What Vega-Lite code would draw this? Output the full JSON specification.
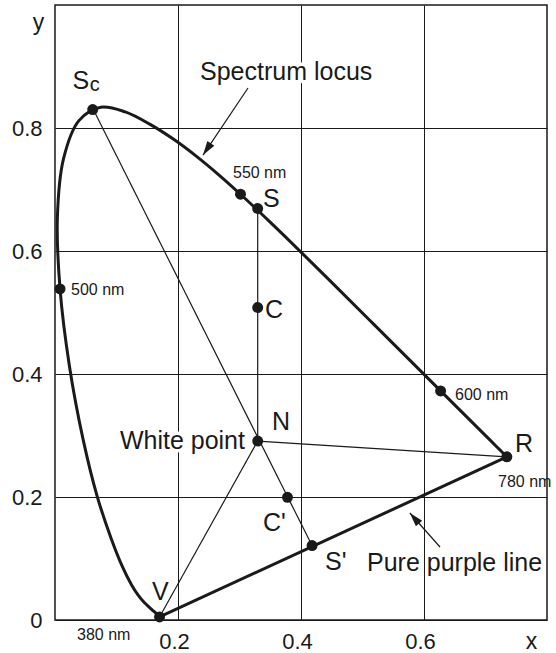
{
  "$schema": "https://vega.github.io/schema/vega-lite/v6.json",
  "width": 492,
  "height": 615,
  "autosize": {"type": "none"},
  "padding": {"left": 55, "top": 5, "right": 9, "bottom": 33},
  "background": "white",
  "config": {
    "view": {"stroke": "#1a1a1a", "strokeWidth": 1.5},
    "font": "Liberation Sans",
    "axis": {
      "domain": false, "ticks": false, "grid": true,
      "gridColor": "#1a1a1a", "gridOpacity": 1, "gridWidth": 1,
      "labelFont": "Liberation Sans", "labelFontSize": 22, "labelColor": "#1a1a1a",
      "titleFont": "Liberation Sans", "titleFontSize": 23, "titleFontWeight": "normal", "titleColor": "#1a1a1a"
    }
  },
  "datasets": {
    "locus": [
      {"wl": 400, "x": 0.1710, "y": 0.0050},
      {"wl": 440, "x": 0.1644, "y": 0.0109},
      {"wl": 450, "x": 0.1566, "y": 0.0177},
      {"wl": 460, "x": 0.1440, "y": 0.0297},
      {"wl": 465, "x": 0.1355, "y": 0.0399},
      {"wl": 470, "x": 0.1241, "y": 0.0578},
      {"wl": 475, "x": 0.1096, "y": 0.0868},
      {"wl": 480, "x": 0.0913, "y": 0.1327},
      {"wl": 485, "x": 0.0687, "y": 0.2007},
      {"wl": 490, "x": 0.0454, "y": 0.2950},
      {"wl": 495, "x": 0.0235, "y": 0.4127},
      {"wl": 500, "x": 0.0082, "y": 0.5384},
      {"wl": 505, "x": 0.0039, "y": 0.6548},
      {"wl": 510, "x": 0.0139, "y": 0.7502},
      {"wl": 515, "x": 0.0389, "y": 0.8120},
      {"wl": 520, "x": 0.0743, "y": 0.8338},
      {"wl": 525, "x": 0.1142, "y": 0.8262},
      {"wl": 530, "x": 0.1547, "y": 0.8059},
      {"wl": 535, "x": 0.1929, "y": 0.7816},
      {"wl": 540, "x": 0.2296, "y": 0.7543},
      {"wl": 545, "x": 0.2658, "y": 0.7243},
      {"wl": 550, "x": 0.3016, "y": 0.6923},
      {"wl": 555, "x": 0.3373, "y": 0.6589},
      {"wl": 560, "x": 0.3731, "y": 0.6245},
      {"wl": 570, "x": 0.4441, "y": 0.5547},
      {"wl": 580, "x": 0.5125, "y": 0.4866},
      {"wl": 590, "x": 0.5752, "y": 0.4242},
      {"wl": 600, "x": 0.6270, "y": 0.3725},
      {"wl": 610, "x": 0.6658, "y": 0.3340},
      {"wl": 620, "x": 0.6915, "y": 0.3083},
      {"wl": 630, "x": 0.7079, "y": 0.2920},
      {"wl": 640, "x": 0.7190, "y": 0.2809},
      {"wl": 650, "x": 0.7260, "y": 0.2740},
      {"wl": 680, "x": 0.7334, "y": 0.2666},
      {"wl": 780, "x": 0.7347, "y": 0.2653}
    ],
    "thin": [
      {"seg": "Sc-S'", "x": 0.0613, "y": 0.832, "x2": 0.418, "y2": 0.121},
      {"seg": "S-N", "x": 0.3296, "y": 0.669, "x2": 0.3296, "y2": 0.291},
      {"seg": "N-R", "x": 0.3296, "y": 0.291, "x2": 0.7347, "y2": 0.2653},
      {"seg": "N-V", "x": 0.3296, "y": 0.291, "x2": 0.170, "y2": 0.005}
    ],
    "thick": [
      {"seg": "V-R", "x": 0.170, "y": 0.005, "x2": 0.7347, "y2": 0.2653}
    ],
    "arrows": [
      {"id": "locus", "x": 0.3138, "y": 0.865, "x2": 0.2407, "y2": 0.756},
      {"id": "purple", "x": 0.626, "y": 0.1187, "x2": 0.577, "y2": 0.174}
    ],
    "dots": [
      {"p": "Sc", "x": 0.0613, "y": 0.830},
      {"p": "500 nm", "x": 0.0082, "y": 0.5384},
      {"p": "550 nm", "x": 0.3016, "y": 0.6923},
      {"p": "S", "x": 0.3296, "y": 0.669},
      {"p": "C", "x": 0.3296, "y": 0.508},
      {"p": "N", "x": 0.3296, "y": 0.291},
      {"p": "C'", "x": 0.378, "y": 0.1995},
      {"p": "S'", "x": 0.418, "y": 0.121},
      {"p": "600 nm", "x": 0.627, "y": 0.3725},
      {"p": "R", "x": 0.7347, "y": 0.2653},
      {"p": "V", "x": 0.170, "y": 0.005}
    ],
    "big": [
      {"t": "Spectrum locus", "x": 0.2358, "y": 0.878},
      {"t": "S", "x": 0.3382, "y": 0.6715},
      {"t": "C", "x": 0.3415, "y": 0.491},
      {"t": "N", "x": 0.3528, "y": 0.309},
      {"t": "C'", "x": 0.3382, "y": 0.1447},
      {"t": "S'", "x": 0.439, "y": 0.0813},
      {"t": "Pure purple line", "x": 0.5073, "y": 0.0797},
      {"t": "R", "x": 0.748, "y": 0.273},
      {"t": "V", "x": 0.1577, "y": 0.0325},
      {"t": "S", "x": 0.0285, "y": 0.8634}
    ],
    "bigRight": [
      {"t": "White point", "x": 0.3089, "y": 0.278}
    ],
    "small": [
      {"t": "550 nm", "x": 0.2894, "y": 0.7187},
      {"t": "780 nm", "x": 0.7203, "y": 0.2163},
      {"t": "600 nm", "x": 0.6504, "y": 0.3577},
      {"t": "500 nm", "x": 0.026, "y": 0.5285},
      {"t": "380 nm", "x": 0.0358, "y": -0.0325}
    ],
    "sub": [
      {"t": "c", "x": 0.0565, "y": 0.860}
    ]
  },
  "encoding": {
    "x": {
      "field": "x", "type": "quantitative",
      "scale": {"domain": [0, 0.8], "nice": false, "zero": false},
      "axis": {"values": [0.2, 0.4, 0.6], "format": ".1f", "title": "x", "labelPadding": 11, "labelOffset": -4,
               "titleAnchor": "start", "titleX": 476, "titleY": 28, "titleAlign": "center", "titleBaseline": "alphabetic"}
    },
    "y": {
      "field": "y", "type": "quantitative",
      "scale": {"domain": [0, 1], "nice": false, "zero": false},
      "axis": {"values": [0, 0.2, 0.4, 0.6, 0.8], "labelExpr": "datum.value == 0 ? '0' : format(datum.value, '.1f')", "title": "y", "labelPadding": 13, "labelBaseline": "middle",
               "titleAngle": 0, "titleX": -17, "titleY": 24, "titleAlign": "center", "titleBaseline": "alphabetic"}
    }
  },
  "layer": [
    {
      "data": {"name": "locus"},
      "mark": {"type": "line", "stroke": "#1a1a1a", "strokeWidth": 3, "interpolate": "catmull-rom"},
      "encoding": {"order": {"field": "wl", "type": "quantitative"}}
    },
    {
      "data": {"name": "thin"},
      "mark": {"type": "rule", "stroke": "#1a1a1a", "strokeWidth": 1.2},
      "encoding": {"x2": {"field": "x2"}, "y2": {"field": "y2"}}
    },
    {
      "data": {"name": "thick"},
      "mark": {"type": "rule", "stroke": "#1a1a1a", "strokeWidth": 3},
      "encoding": {"x2": {"field": "x2"}, "y2": {"field": "y2"}}
    },
    {
      "data": {"name": "arrows"},
      "mark": {"type": "rule", "stroke": "#1a1a1a", "strokeWidth": 1.2},
      "encoding": {"x2": {"field": "x2"}, "y2": {"field": "y2"}}
    },
    {
      "data": {"name": "arrows"},
      "transform": [{"filter": "datum.id == 'locus'"}],
      "mark": {"type": "point", "shape": "M0,0L-0.3,1L0.3,1Z", "filled": true, "fill": "#1a1a1a", "strokeWidth": 0, "size": 784, "opacity": 1, "angle": 214},
      "encoding": {"x": {"field": "x2", "type": "quantitative"}, "y": {"field": "y2", "type": "quantitative"}}
    },
    {
      "data": {"name": "arrows"},
      "transform": [{"filter": "datum.id == 'purple'"}],
      "mark": {"type": "point", "shape": "M0,0L-0.3,1L0.3,1Z", "filled": true, "fill": "#1a1a1a", "strokeWidth": 0, "size": 784, "opacity": 1, "angle": 319},
      "encoding": {"x": {"field": "x2", "type": "quantitative"}, "y": {"field": "y2", "type": "quantitative"}}
    },
    {
      "data": {"name": "dots"},
      "mark": {"type": "circle", "fill": "#1a1a1a", "size": 120, "opacity": 1}
    },
    {
      "data": {"name": "big"},
      "transform": [{"filter": "datum.t == 'Spectrum locus'"}],
      "mark": {"type": "text", "align": "left", "baseline": "alphabetic", "fontSize": 25, "fill": "white", "stroke": "white", "strokeWidth": 7, "strokeJoin": "round"},
      "encoding": {"text": {"field": "t"}}
    },
    {
      "data": {"name": "bigRight"},
      "mark": {"type": "text", "align": "right", "baseline": "alphabetic", "fontSize": 25, "fill": "white", "stroke": "white", "strokeWidth": 7, "strokeJoin": "round"},
      "encoding": {"text": {"field": "t"}}
    },
    {
      "data": {"name": "big"},
      "mark": {"type": "text", "align": "left", "baseline": "alphabetic", "fontSize": 25, "fill": "#1a1a1a"},
      "encoding": {"text": {"field": "t"}}
    },
    {
      "data": {"name": "bigRight"},
      "mark": {"type": "text", "align": "right", "baseline": "alphabetic", "fontSize": 25, "fill": "#1a1a1a"},
      "encoding": {"text": {"field": "t"}}
    },
    {
      "data": {"name": "small"},
      "mark": {"type": "text", "align": "left", "baseline": "alphabetic", "fontSize": 16, "fill": "#1a1a1a"},
      "encoding": {"text": {"field": "t"}}
    },
    {
      "data": {"name": "sub"},
      "mark": {"type": "text", "align": "left", "baseline": "alphabetic", "fontSize": 20, "fill": "#1a1a1a"},
      "encoding": {"text": {"field": "t"}}
    }
  ]
}
